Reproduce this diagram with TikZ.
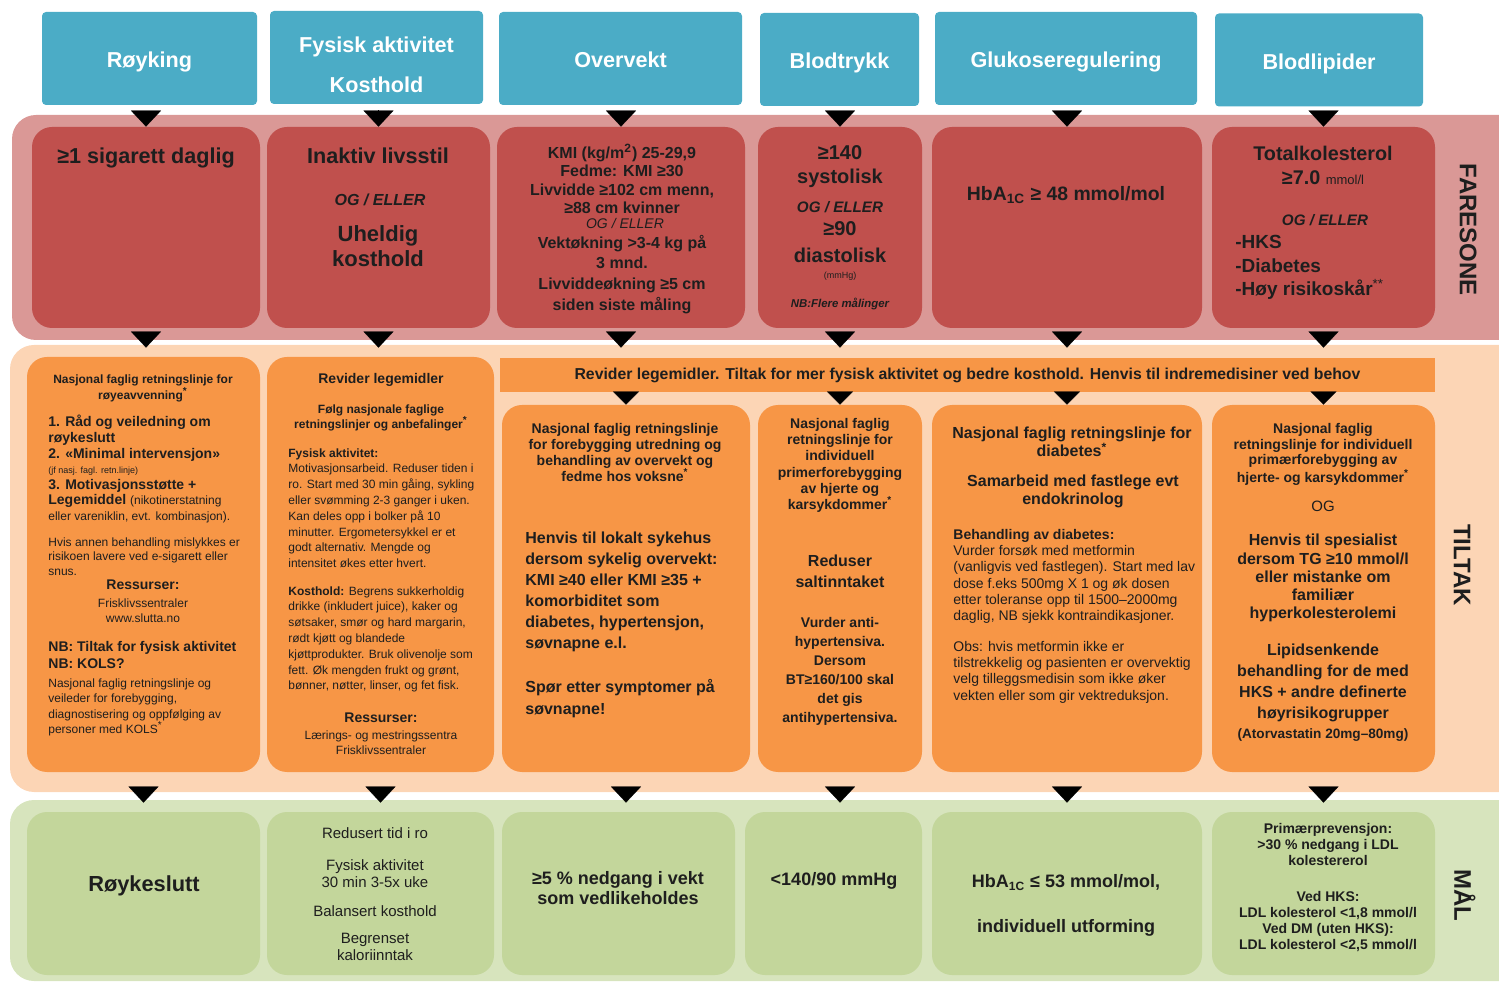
\documentclass[tikz,border=0pt]{standalone}
\usepackage{fontspec}
\setmainfont{Liberation Sans}
\usepackage{xcolor}
\usepackage{tikz}
\usetikzlibrary{arrows.meta}
\usetikzlibrary{positioning, calc}

\newcommand\fsz[2]{\fontsize{#1}{#2}\selectfont}

\definecolor{hodeblaa}{HTML}{4BACC6}
\definecolor{farebg}{HTML}{DA9896}
\definecolor{farerod}{HTML}{C0504D}
\definecolor{tiltakbg}{HTML}{FCD5B5}
\definecolor{tiltakor}{HTML}{F79646}
\definecolor{maalbg}{HTML}{D7E4BD}
\definecolor{maalgr}{HTML}{C3D69B}
\definecolor{tekst}{HTML}{1E1E1E}

\tikzset{
    hode/.style={fill=hodeblaa, rounded corners=2pt, text=white, font=\bfseries\fsz{10.8}{20},
        align=center, minimum height=46.5pt, inner sep=0pt, text height=10pt, text depth=0.7pt},
    fare/.style={fill=farerod, rounded corners=10pt, minimum height=100.5pt, inner sep=0pt},
    tiltak/.style={fill=tiltakor, rounded corners=10pt, inner sep=0pt},
    banner/.style={fill=tiltakor, text=tekst, font=\bfseries\fsz{7.9}{9}, inner sep=0pt},
    maal/.style={fill=maalgr, rounded corners=10pt, minimum height=81.5pt, inner sep=0pt},
    txt/.style={text=tekst, inner sep=0pt, align=center, anchor=north},
    vtxt/.style={text=tekst, inner sep=0pt, align=left, anchor=north west},
    sidetekst/.style={text=tekst, font=\bfseries\fsz{12}{14}, rotate=-90, inner sep=0pt},
    pil/.style={-{Triangle[width=15pt,length=8pt]}, line width=0.1pt},
    litenpil/.style={-{Triangle[width=13pt,length=6.5pt]}, line width=0.1pt}
}

\begin{document}
\begin{tikzpicture}[x=0.5pt, y=-0.5pt]
    \useasboundingbox (0,0) rectangle (1499,983);

    % Bakgrunnsfelt
    \fill[farebg, rounded corners=12pt] (12,115) rectangle (1540,340);
    \fill[tiltakbg, rounded corners=12pt] (10,345) rectangle (1540,792);
    \fill[maalbg, rounded corners=12pt] (10,800) rectangle (1540,981);

    % Overskrifter
    \node[hode, minimum width=107.5pt] (h1) at (149.5,58.5) {Røyking};
    \node[hode, minimum width=106.5pt, text height=36pt, text depth=0.7pt] (h2) at (376.5,57.5)
        {Fysisk aktivitet\\Kosthold};
    \node[hode, minimum width=121.5pt] (h3) at (620.5,58.5) {Overvekt};
    \node[hode, minimum width=79.5pt] (h4) at (839.5,59.5) {Blodtrykk};
    \node[hode, minimum width=131pt] (h5) at (1066,58.5) {Glukoseregulering};
    \node[hode, minimum width=104pt] (h6) at (1319,60) {Blodlipider};

    % Faresone
    \node[fare, minimum width=114pt] (f1) at (146,227.5) {};
    \node[fare, minimum width=111.5pt] (f2) at (378.5,227.5) {};
    \node[fare, minimum width=124pt] (f3) at (621,227.5) {};
    \node[fare, minimum width=82pt] (f4) at (840,227.5) {};
    \node[fare, minimum width=135pt] (f5) at (1067,227.5) {};
    \node[fare, minimum width=111.5pt] (f6) at (1323.5,227.5) {};

    \node[txt, font=\bfseries\fsz{10.8}{13}] (f1t) at (146,147) {≥1 sigarett daglig};

    \node[txt, font=\bfseries\fsz{10.8}{13}] (f2a) at (378,147) {Inaktiv livsstil};
    \node[txt, font=\bfseries\itshape\fsz{8}{10}] (f2b) at (380,194) {OG / ELLER};
    \node[txt, font=\bfseries\fsz{11}{12.5}] (f2c) at (378,225) {Uheldig\\kosthold};

    \node[txt, font=\bfseries\fsz{8}{9.2}] (f3a) at (622,144)
        {KMI (kg/m\textsuperscript{2}) 25-29,9\\Fedme: KMI ≥30\\Livvidde ≥102 cm menn,\\≥88 cm kvinner};
    \node[txt, font=\itshape\fsz{7}{8}] (f3b) at (625,218) {OG / ELLER};
    \node[txt, font=\bfseries\fsz{8}{10}] (f3c) at (622,235) {Vektøkning >3-4 kg på\\3 mnd.};
    \node[txt, font=\bfseries\fsz{8}{10.5}] (f3d) at (622,278) {Livviddeøkning ≥5 cm\\siden siste måling};

    \node[txt, font=\bfseries\fsz{10}{12}] (f4a) at (840,145) {≥140\\systolisk};
    \node[txt, font=\bfseries\itshape\fsz{7.6}{9}] (f4b) at (840,201) {OG / ELLER};
    \node[txt, font=\bfseries\fsz{10}{13.5}] (f4c) at (840,221) {≥90\\diastolisk};
    \node[txt, font=\fsz{4.5}{5}] (f4d) at (840,272) {(mmHg)};
    \node[txt, font=\bfseries\itshape\fsz{5.7}{7}] (f4e) at (840,298) {NB:Flere målinger};

    \node[txt, font=\bfseries\fsz{9.7}{12}] (f5t) at (1066,186) {HbA\textsubscript{1C} ≥ 48 mmol/mol};

    \node[txt, font=\bfseries\fsz{9.9}{12}] (f6a) at (1323,146)
        {Totalkolesterol\\≥7.0 {\mdseries\fsz{6.5}{12}mmol/l}};
    \node[txt, font=\bfseries\itshape\fsz{7.6}{9}] (f6b) at (1325,214.5) {OG / ELLER};
    \node[vtxt, font=\bfseries\fsz{9.5}{11.8}] (f6c) at (1235,235)
        {-HKS\\-Diabetes\\-Høy risikoskår{\mdseries\textsuperscript{**}}};

    \node[sidetekst] (fs) at (1468,230) {FARESONE};

    % Tiltak
    \node[tiltak, minimum width=116.5pt, minimum height=207.5pt] (t1) at (143.5,564.5) {};
    \node[tiltak, minimum width=113.5pt, minimum height=207.5pt] (t2) at (380.5,564.5) {};
    \node[banner, minimum width=467.5pt, minimum height=17pt] (b) at (967.5,375)
        {Revider legemidler. Tiltak for mer fysisk aktivitet og bedre kosthold. Henvis til indremedisiner ved behov};
    \node[tiltak, minimum width=124pt, minimum height=183.5pt] (t3) at (626,588.5) {};
    \node[tiltak, minimum width=82pt, minimum height=183.5pt] (t4) at (840,588.5) {};
    \node[tiltak, minimum width=135pt, minimum height=183.5pt] (t5) at (1067,588.5) {};
    \node[tiltak, minimum width=111.5pt, minimum height=183.5pt] (t6) at (1323.5,588.5) {};

    \node[txt, font=\bfseries\fsz{6}{7}] (t1a) at (143,374)
        {Nasjonal faglig retningslinje for\\røyeavvenning\textsuperscript{*}};
    \node[vtxt, font=\bfseries\fsz{7}{7.8}] (t1b) at (48,415)
        {1. Råd og veiledning om\\røykeslutt\\2. «Minimal intervensjon»\\{\mdseries\fsz{4.5}{5}(jf nasj. fagl. retn.linje)}\\3. Motivasjonsstøtte +\\Legemiddel {\mdseries\fsz{6}{7}(nikotinerstatning}\\{\mdseries\fsz{6}{7}eller vareniklin, evt. kombinasjon).}};
    \node[vtxt, font=\fsz{6}{7.3}] (t1c) at (48,537)
        {Hvis annen behandling mislykkes er\\risikoen lavere ved e-sigarett eller\\snus.};
    \node[txt, font=\bfseries\fsz{7}{8}] (t1d) at (143,579) {Ressurser:};
    \node[txt, font=\fsz{6}{7.5}] (t1e) at (143,598) {Frisklivssentraler\\www.slutta.no};
    \node[vtxt, font=\bfseries\fsz{7}{8.5}] (t1f) at (48,641) {NB: Tiltak for fysisk aktivitet\\NB: KOLS?};
    \node[vtxt, font=\fsz{6}{7.8}] (t1g) at (48,678)
        {Nasjonal faglig retningslinje og\\veileder for forebygging,\\diagnostisering og oppfølging av\\personer med KOLS\textsuperscript{*}};

    \node[txt, font=\bfseries\fsz{7}{8}] (t2a) at (381,373) {Revider legemidler};
    \node[txt, font=\bfseries\fsz{6}{7.5}] (t2b) at (381,404)
        {Følg nasjonale faglige\\retningslinjer og anbefalinger\textsuperscript{*}};
    \node[vtxt, font=\fsz{6}{7.9}] (t2c) at (288,448)
        {\textbf{Fysisk aktivitet:}\\Motivasjonsarbeid. Reduser tiden i\\ro. Start med 30 min gåing, sykling\\eller svømming 2-3 ganger i uken.\\Kan deles opp i bolker på 10\\minutter. Ergometersykkel er et\\godt alternativ. Mengde og\\intensitet økes etter hvert.};
    \node[vtxt, font=\fsz{6}{7.9}] (t2d) at (288,586)
        {\textbf{Kosthold:} Begrens sukkerholdig\\drikke (inkludert juice), kaker og\\søtsaker, smør og hard margarin,\\rødt kjøtt og blandede\\kjøttprodukter. Bruk olivenolje som\\fett. Øk mengden frukt og grønt,\\bønner, nøtter, linser, og fet fisk.};
    \node[txt, font=\bfseries\fsz{7}{8}] (t2e) at (381,712) {Ressurser:};
    \node[txt, font=\fsz{6}{7.5}] (t2f) at (381,730) {Lærings- og mestringssentra\\Frisklivssentraler};

    \node[txt, font=\bfseries\fsz{7}{8}] (t3a) at (625,423)
        {Nasjonal faglig retningslinje\\for forebygging utredning og\\behandling av overvekt og\\fedme hos voksne\textsuperscript{*}};
    \node[vtxt, font=\bfseries\fsz{8}{10.5}] (t3b) at (525,532)
        {Henvis til lokalt sykehus\\dersom sykelig overvekt:\\KMI ≥40 eller KMI ≥35 +\\komorbiditet som\\diabetes, hypertensjon,\\søvnapne e.l.};
    \node[vtxt, font=\bfseries\fsz{8}{11}] (t3c) at (525,679) {Spør etter symptomer på\\søvnapne!};

    \node[txt, font=\bfseries\fsz{7}{8.1}] (t4a) at (840,418)
        {Nasjonal faglig\\retningslinje for\\individuell\\primerforebygging\\av hjerte og\\karsykdommer\textsuperscript{*}};
    \node[txt, font=\bfseries\fsz{8}{10.5}] (t4b) at (840,555) {Reduser\\saltinntaket};
    \node[txt, font=\bfseries\fsz{7}{9.5}] (t4c) at (840,617)
        {Vurder anti-\\hypertensiva.\\Dersom\\BT≥160/100 skal\\det gis\\antihypertensiva.};

    \node[txt, font=\bfseries\fsz{8}{9}] (t5a) at (1072,427) {Nasjonal faglig retningslinje for\\diabetes\textsuperscript{*}};
    \node[txt, font=\bfseries\fsz{8}{9}] (t5b) at (1073,475) {Samarbeid med fastlege evt\\endokrinolog};
    \node[vtxt, font=\fsz{7}{8.1}] (t5c) at (953,529)
        {\textbf{Behandling av diabetes:}\\Vurder forsøk med metformin\\(vanligvis ved fastlegen). Start med lav\\dose f.eks 500mg X 1 og øk dosen\\etter toleranse opp til 1500–2000mg\\daglig, NB sjekk kontraindikasjoner.};
    \node[vtxt, font=\fsz{7}{8.1}] (t5d) at (953,641)
        {Obs: hvis metformin ikke er\\tilstrekkelig og pasienten er overvektig\\velg tilleggsmedisin som ikke øker\\vekten eller som gir vektreduksjon.};

    \node[txt, font=\bfseries\fsz{7}{7.8}] (t6a) at (1323,423)
        {Nasjonal faglig\\retningslinje for individuell\\primærforebygging av\\hjerte- og karsykdommer\textsuperscript{*}};
    \node[txt, font=\fsz{7.5}{9}] (t6b) at (1323,501) {OG};
    \node[txt, font=\bfseries\fsz{8}{9.1}] (t6c) at (1323,534)
        {Henvis til spesialist\\dersom TG ≥10 mmol/l\\eller mistanke om\\familiær\\hyperkolesterolemi};
    \node[txt, font=\bfseries\fsz{8}{10.5}] (t6d) at (1323,644)
        {Lipidsenkende\\behandling for de med\\HKS + andre definerte\\høyrisikogrupper};
    \node[txt, font=\bfseries\fsz{6.8}{8}] (t6e) at (1323,728) {(Atorvastatin 20mg–80mg)};

    \node[sidetekst] (ts) at (1462,565) {TILTAK};

    % Mål
    \node[maal, minimum width=116.5pt] (m1) at (143.5,893.5) {};
    \node[maal, minimum width=113.5pt] (m2) at (380.5,893.5) {};
    \node[maal, minimum width=116.5pt] (m3) at (618.5,893.5) {};
    \node[maal, minimum width=88.5pt] (m4) at (833.5,893.5) {};
    \node[maal, minimum width=135pt] (m5) at (1067,893.5) {};
    \node[maal, minimum width=111.5pt] (m6) at (1323.5,893.5) {};

    \node[txt, font=\bfseries\fsz{10.9}{13}] (m1t) at (144,875) {Røykeslutt};
    \node[txt, font=\fsz{7.5}{8.5}] (m2t) at (375,827)
        {Redusert tid i ro\\[7.5pt]Fysisk aktivitet\\30 min 3-5x uke\\[6pt]Balansert kosthold\\[5pt]Begrenset\\kaloriinntak};
    \node[txt, font=\bfseries\fsz{9}{10}] (m3t) at (618,871.5) {≥5 \% nedgang i vekt\\som vedlikeholdes};
    \node[txt, font=\bfseries\fsz{9}{10}] (m4t) at (834,872.5) {<140/90 mmHg};
    \node[txt, font=\bfseries\fsz{9}{10}] (m5t) at (1066,874.5)
        {HbA\textsubscript{1C} ≤ 53 mmol/mol,\\[12.5pt]individuell utforming};
    \node[txt, font=\bfseries\fsz{7}{8}] (m6t) at (1328,823)
        {Primærprevensjon:\\>30 \% nedgang i LDL\\kolestererol\\[10pt]Ved HKS:\\LDL kolesterol <1,8 mmol/l\\Ved DM (uten HKS):\\LDL kolesterol <2,5 mmol/l};

    \node[sidetekst] (ms) at (1465,895) {MÅL};

    % Piler
    \foreach \a/\b in {h1/f1, h2/f2, h3/f3, h4/f4, h5/f5, h6/f6}
        \draw[pil, shorten <=3pt] (\b.north |- \a.south) -- (\b.north);
    \foreach \a/\b in {f1/t1, f2/t2}
        \draw[pil, shorten <=2pt, shorten >=4.5pt] (\a.south) -- (\a.south |- \b.north);
    \foreach \a in {f3, f4, f5, f6}
        \draw[pil, shorten <=2pt, shorten >=5pt] (\a.south) -- (\a.south |- b.north);
    \foreach \a in {t3, t4, t5, t6}
        \draw[litenpil] (\a.north |- b.south) -- (\a.north);
    \foreach \a/\b in {t1/m1, t2/m2, t3/m3, t4/m4, t5/m5, t6/m6}
        \draw[pil, shorten <=7.5pt, shorten >=4.5pt] (\a.south) -- (\a.south |- \b.north);
\end{tikzpicture}
\end{document}
